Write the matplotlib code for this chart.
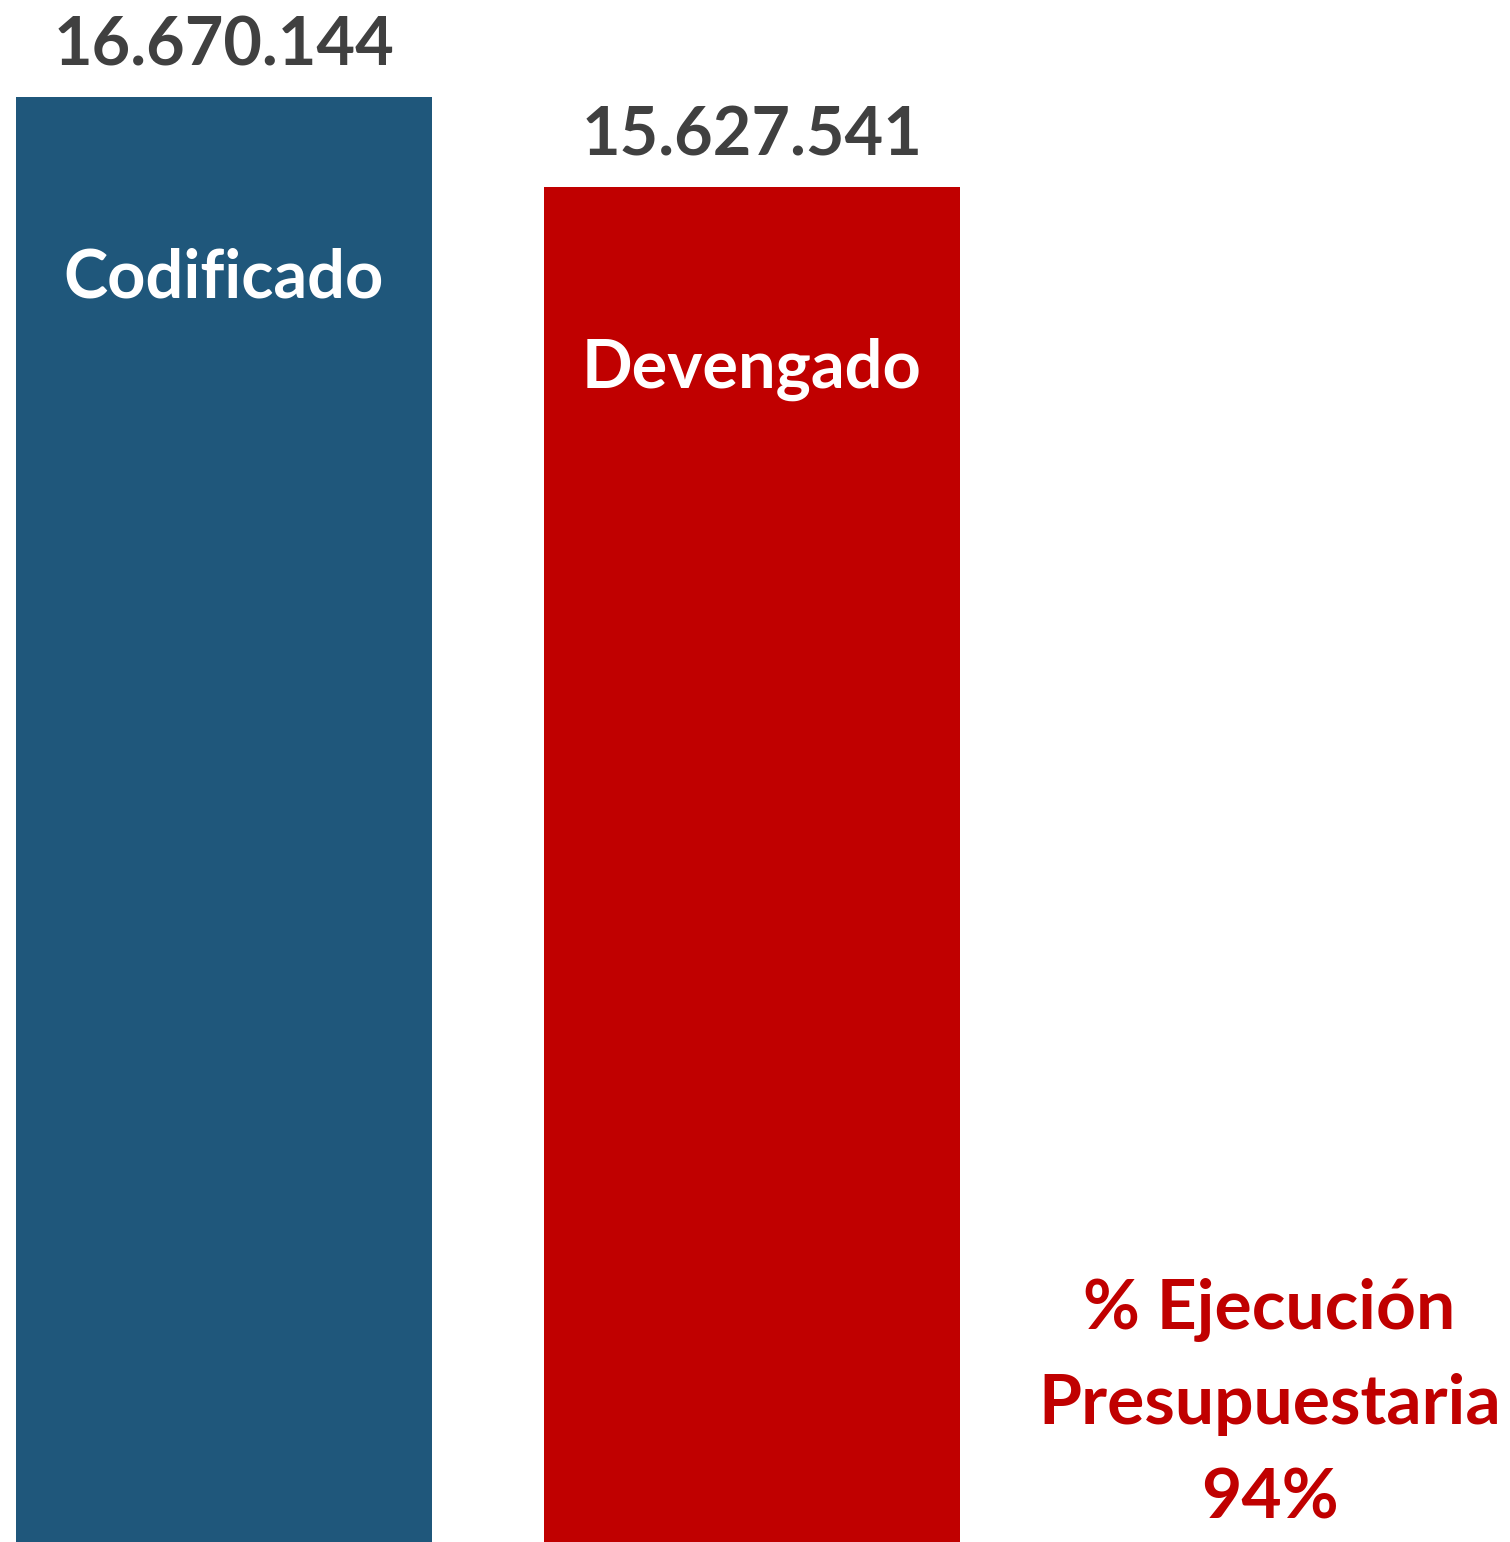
import numpy as np
import matplotlib.pyplot as plt

categorias = ["Codificado", "Devengado"]
valores = [16670144, 15627541]
colores = ["#1F577B", "#C00000"]

ejecucion = valores[1] / valores[0]

plt.rcParams['font.family'] = ['Lato', 'DejaVu Sans']

fig = plt.figure(figsize=(15.1, 15.42), dpi=100)
ax = fig.add_axes([0, 0, 1, 1])

x = np.arange(len(categorias))
bars = ax.bar(x, valores, width=0.788, color=colores)

ax.set_xlim(-0.4242, 2.4356)
ax.set_ylim(0, 17789178)
ax.axis('off')

def fmt(v):
    return f"{v:,}".replace(",", ".")

for xi, v, nombre in zip(x, valores, categorias):
    ax.annotate(fmt(v), (xi, v), xytext=(0, 14), textcoords='offset points',
                ha='center', va='bottom', fontsize=48, fontweight='bold', color='#404040')
    ax.annotate(nombre, (xi, v), xytext=(0, -131), textcoords='offset points',
                ha='center', va='center', fontsize=48, fontweight='bold', color='white')

ax.annotate(f"% Ejecución\nPresupuestaria\n{ejecucion:.0%}", (1.98, 0), xytext=(0, 8),
            textcoords='offset points', ha='center', va='bottom', fontsize=50,
            fontweight='bold', color='#C00000', linespacing=1.62)

fig.savefig("out.png", dpi=100)
